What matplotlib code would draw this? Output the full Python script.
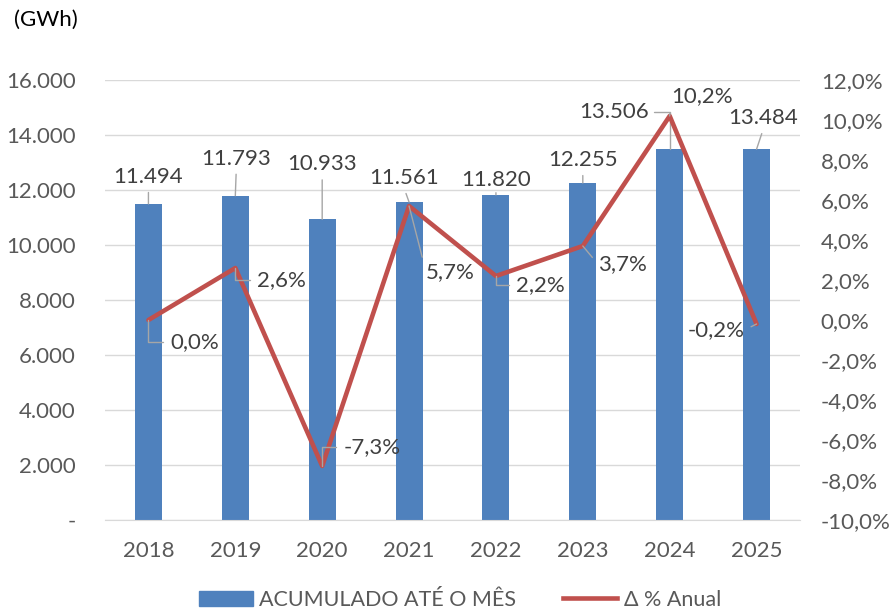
import matplotlib.pyplot as plt
import numpy as np
from matplotlib.ticker import FuncFormatter
from matplotlib.patches import Patch
from matplotlib.lines import Line2D

plt.rcParams['font.family'] = ['Lato', 'DejaVu Sans']

years = ['2018', '2019', '2020', '2021', '2022', '2023', '2024', '2025']
acumulado = [11494, 11793, 10933, 11561, 11820, 12255, 13506, 13484]
var_anual = [0.0, 2.6, -7.3, 5.7, 2.2, 3.7, 10.2, -0.2]

# label offsets in pixels (x, y) from the mark, and which leaders bend
bar_off = [(0, 27), (1, 37), (0, 55), (-5, 24), (0, 15), (0, 23), (-56, 37), (7, 31)]
bar_elbow = [False, False, False, False, False, False, True, False]
pct_off = [(22, -22), (22, -12), (21, 19), (17, -66), (20, -9), (15, -18), (2, 20), (-12, -6)]
pct_elbow = [True, True, True, False, True, False, False, False]

blue = '#4F81BD'
red = '#C0504D'
txt = '#404040'
tick = '#595959'
lead = '#A6A6A6'
angle = 'angle,angleA=0,angleB=90,rad=0'

fig = plt.figure(figsize=(8.93, 6.13), dpi=100)
ax = fig.add_axes([105/893, 93/613, 695/893, 440/613])
ax2 = ax.twinx()

x = np.arange(len(years))
ax.bar(x, acumulado, width=0.31, color=blue, zorder=2)
ax.set_xlim(-0.5, len(years) - 0.5)
ax.set_ylim(0, 16000)
ax.set_yticks(np.arange(0, 16001, 2000))
ax.yaxis.set_major_formatter(FuncFormatter(
    lambda v, p: '-' if v == 0 else f'{int(v):,}'.replace(',', '.')))
ax.set_xticks(x, years)
ax.grid(axis='y', color='#D9D9D9', linewidth=1, zorder=0)
ax.set_axisbelow(True)
for s in ['top', 'left', 'right']:
    ax.spines[s].set_visible(False)
    ax2.spines[s].set_visible(False)
ax2.spines['bottom'].set_visible(False)
ax.spines['bottom'].set_color('#D9D9D9')
ax.tick_params(axis='both', length=0, labelsize=16, colors=tick)
ax.tick_params(axis='x', pad=15)
ax.tick_params(axis='y', pad=21)

ax2.plot(x, var_anual, color=red, linewidth=3.3, solid_capstyle='round', zorder=3)
ax2.set_ylim(-10, 12)
ax2.set_yticks(np.arange(-10, 12.1, 2))
ax2.yaxis.set_major_formatter(FuncFormatter(lambda v, p: f'{v:.1f}%'.replace('.', ',')))
ax2.tick_params(axis='y', length=0, labelsize=16, colors=tick, pad=15)

for i, v in enumerate(acumulado):
    ax.annotate(f'{v:,}'.replace(',', '.'), (x[i], v), xytext=bar_off[i],
                textcoords='offset pixels', ha='center', va='center',
                fontsize=16, color=txt, zorder=5,
                arrowprops=dict(arrowstyle='-', color=lead, lw=1,
                                shrinkA=2, shrinkB=0,
                                relpos=(1.0, 0.5) if bar_elbow[i] else (0.5, 0.0),
                                connectionstyle=angle if bar_elbow[i] else 'arc3'))

for i, v in enumerate(var_anual):
    ha = 'right' if pct_off[i][0] < 0 else 'left'
    ax2.annotate(f'{v:.1f}%'.replace('.', ','), (x[i], v), xytext=pct_off[i],
                 textcoords='offset pixels', ha=ha, va='center',
                 fontsize=16, color=txt, zorder=5,
                 arrowprops=dict(arrowstyle='-', color=lead, lw=1,
                                 shrinkA=3, shrinkB=0,
                                 relpos=(1.0 if ha == 'right' else 0.0, 0.5),
                                 connectionstyle=angle if pct_elbow[i] else 'arc3'))

fig.text(14/893, 1 - 20/613, '(GWh)', fontsize=16, color='black', va='center')

handles = [Patch(color=blue), Line2D([0], [0], color=red, lw=3.3)]
fig.legend(handles, ['ACUMULADO ATÉ O MÊS', 'Δ % Anual'], loc='center',
           bbox_to_anchor=(0.515, 1 - 600/613), ncol=2, frameon=False,
           fontsize=15.5, labelcolor=tick, handlelength=2.5, columnspacing=2.2,
           handletextpad=0.3)

fig.savefig('out.png', dpi=100)
